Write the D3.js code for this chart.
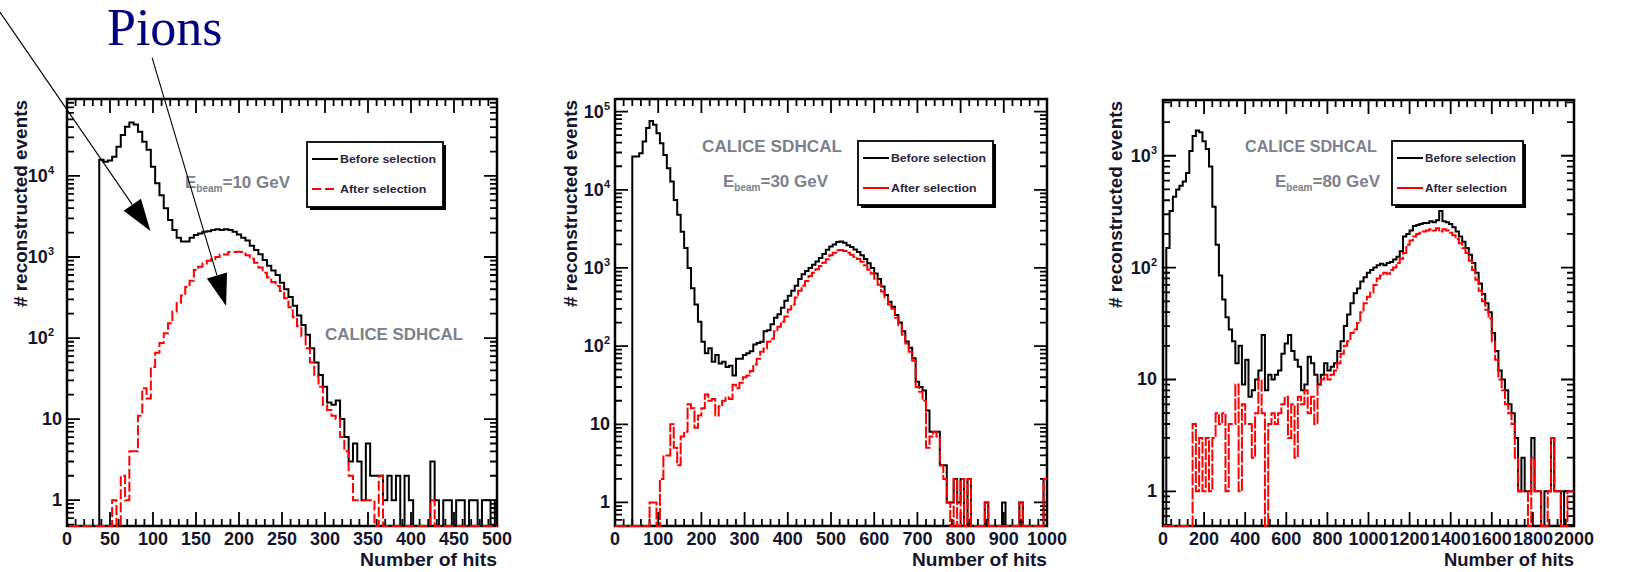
<!DOCTYPE html>
<html>
<head>
<meta charset="utf-8">
<script src="https://cdn.jsdelivr.net/npm/d3@7"></script>
<style>
  body { margin: 0; background: #ffffff; }
  svg { display: block; }
</style>
</head>
<body>
<div id="chart"></div>
<script>
// ---- Data (events per bin) ----
// Panel 1: 10 GeV, 100 bins of 5 hits (axis starts half a bin in)
const p1Before = [
    0, 0, 0, 0, 0, 0, 0, 15800, 15000, 15500,
    17300, 23000, 32000, 40500, 45500, 43000, 35000, 26500, 21000, 13000,
    8100, 5800, 4000, 2860, 2150, 1730, 1550, 1550, 1730, 1870,
    1950, 2050, 2080, 2150, 2200, 2150, 2200, 2150, 2050, 1900,
    1730, 1600, 1380, 1220, 1080, 920, 780, 680, 600, 480,
    400, 320, 250, 190, 145, 110, 75, 50, 35, 25,
    16, 15, 17, 10, 6, 3, 5, 3, 1, 5,
    2, 2, 2, 1, 2, 1, 2, 0, 2, 1,
    0, 0, 0, 0, 3, 1, 0, 1, 1, 0,
    1, 1, 0, 1, 1, 0, 1, 1, 0, 1
];
const p1After = [
    0, 0, 0, 0, 0, 0, 0, 0, 0, 0,
    1, 0, 2, 1, 4, 4, 11, 24, 18, 44,
    66, 87, 115, 152, 213, 270, 335, 426, 510, 690,
    760, 830, 900, 940, 1000, 1070, 1070, 1150, 1150, 1160,
    1150, 1050, 950, 850, 740, 640, 560, 490, 440, 380,
    310, 240, 180, 140, 105, 75, 50, 34, 25, 15,
    13, 11, 10, 6, 4, 2, 1, 1, 1, 1,
    1, 0, 2, 0, 0, 0, 0, 0, 0, 0,
    0, 0, 0, 0, 1, 0, 0, 0, 0, 0,
    0, 0, 0, 0, 0, 0, 0, 0, 0, 0
];
// Panel 2: 30 GeV, 125 bins of 8 hits
const p2Before = [
    0, 0, 0, 0, 0, 26600, 26600, 29300, 41500, 61600,
    76000, 67700, 52900, 39500, 27900, 18900, 12800, 7400, 4800, 2900,
    1800, 1000, 550, 340, 205, 114, 81, 94, 63, 77,
    60, 63, 54, 56, 42, 69, 69, 77, 81, 86,
    105, 110, 114, 155, 160, 190, 230, 255, 310, 380,
    440, 510, 590, 720, 830, 915, 1000, 1100, 1210, 1340,
    1510, 1710, 1880, 2000, 2150, 2180, 2100, 1950, 1850, 1720,
    1600, 1450, 1300, 1150, 1000, 850, 720, 580, 450, 370,
    320, 250, 200, 155, 115, 95, 70, 35, 30, 27,
    15, 8, 8, 8, 3, 3, 1, 1, 2, 1,
    2, 0, 2, 0, 0, 0, 0, 1, 0, 0,
    0, 0, 1, 0, 0, 0, 0, 1, 0, 0,
    0, 0, 0, 0, 2
];
const p2After = [
    0, 0, 0, 0, 0, 0, 0, 0, 0, 0,
    1, 1, 0, 2, 4, 4, 10, 5, 3, 7,
    8, 18, 16, 9, 13, 16, 24, 20, 21, 13,
    17, 20, 22, 21, 32, 29, 34, 40, 42, 48,
    58, 69, 85, 93, 114, 124, 155, 177, 205, 240,
    295, 340, 420, 510, 590, 680, 790, 870, 960, 1060,
    1170, 1290, 1450, 1560, 1680, 1700, 1650, 1560, 1480, 1380,
    1300, 1200, 1080, 950, 850, 730, 610, 500, 420, 340,
    300, 230, 185, 140, 108, 85, 65, 30, 26, 20,
    5, 7, 8, 7, 3, 2, 1, 0, 2, 0,
    2, 0, 2, 0, 0, 0, 0, 1, 0, 0,
    0, 0, 0, 0, 0, 0, 0, 1, 0, 0,
    0, 0, 0, 0, 2
];
// Panel 3: 80 GeV, 125 bins of 16 hits
const p3Before = [
    0, 150, 320, 430, 500, 540, 590, 700, 1100, 1500,
    1680, 1620, 1350, 1150, 800, 350, 160, 85, 52, 36,
    28, 22, 14, 20, 9, 15, 7, 8, 10, 12,
    25, 8, 11, 10, 11, 12, 17, 21, 25, 18,
    15, 13, 8, 9, 16, 14, 11, 9, 11, 14,
    12, 13, 14, 18, 22, 30, 38, 48, 59, 65,
    75, 82, 90, 95, 100, 105, 108, 105, 110, 112,
    118, 125, 140, 190, 200, 215, 235, 240, 245, 250,
    250, 260, 255, 265, 320, 260, 255, 245, 230, 210,
    190, 170, 150, 130, 110, 90, 72, 58, 48, 40,
    26, 18, 12, 10, 8, 6, 5, 3, 1, 2,
    1, 1, 3, 1, 1, 0, 1, 1, 3, 1,
    1, 0, 1, 1, 1
];
const p3After = [
    0, 0, 0, 0, 0, 0, 0, 0, 0, 4,
    1, 3, 1, 3, 1, 3, 5, 4, 5, 1,
    4, 4, 9, 1, 6, 4, 4, 2, 5, 10,
    5, 0, 4, 5, 4, 5, 6, 7, 3, 6,
    2, 7, 6, 8, 5, 7, 4, 9, 10, 11,
    10, 11, 12, 14, 17, 20, 22, 26, 28, 32,
    40, 48, 55, 60, 70, 80, 85, 90, 88, 95,
    100, 110, 120, 135, 160, 175, 190, 200, 205, 210,
    215, 220, 215, 225, 210, 220, 215, 205, 195, 180,
    165, 150, 135, 115, 95, 78, 62, 50, 42, 35,
    22, 15, 10, 8, 6, 5, 4, 2, 1, 1,
    1, 0, 2, 1, 1, 0, 0, 1, 3, 1,
    1, 0, 0, 1, 1
];

const p1XTicks = [0, 50, 100, 150, 200, 250, 300, 350, 400, 450, 500];
const p2XTicks = [0, 100, 200, 300, 400, 500, 600, 700, 800, 900, 1000];
const p3XTicks = [0, 200, 400, 600, 800, 1000, 1200, 1400, 1600, 1800, 2000];
const p1YTicks = [1, 10, 100, 1000, 10000];
const p2YTicks = [1, 10, 100, 1000, 10000, 100000];
const p3YTicks = [1, 10, 100, 1000];

const beamEnergies = [10, 30, 80];
const seriesNames = ["Before selection", "After selection"];
const xTitle = "Number of hits";
const yTitle = "# reconstructed events";
const experiment = "CALICE SDHCAL";
const annotationText = "Pions";
// Annotation arrows over the first panel, in its units (hits, events)
const arrowTails = [[-78, 1.05e6], [99, 2.86e5]];
const arrowTips = [[97, 2090], [185, 248]];

// ---- Layout ----
const W = 1627, H = 572;
const font = "'Liberation Sans', Arial, sans-serif";
const labelColor = "#14142a";
const greyText = "#7c808c";

const panels = [
    { before: p1Before, after: p1After, edge0: 2.5, binWidth: 5, xMax: 500, yMin: 0.48, yMax: 8.9e4,
      xTicks: p1XTicks, xMinor: 10, yTicks: p1YTicks,
      frame: { left: 67, top: 99, right: 497, bottom: 526 },
      expGap: 13, plainGap: 5, afterDash: "10,3", legendDash: "9,4",
      yTitleX: 20, xTitleLen: 137,
      legend: { x: 307, y: 142, w: 136, h: 65 },
      calice: { x: 325, y: 340, len: 138 }, beam: { x: 185, y: 188 } },
    { before: p2Before, after: p2After, edge0: 0, binWidth: 8, xMax: 1000, yMin: 0.5, yMax: 1.45e5,
      xTicks: p2XTicks, xMinor: 20, yTicks: p2YTicks,
      frame: { left: 615, top: 99, right: 1047, bottom: 526 },
      expGap: 5, plainGap: 5, afterDash: "12,2", legendDash: null,
      yTitleX: 570, xTitleLen: 135,
      legend: { x: 858, y: 141, w: 135, h: 64 },
      calice: { x: 702, y: 152, len: 140 }, beam: { x: 723, y: 187 } },
    { before: p3Before, after: p3After, edge0: 0, binWidth: 16, xMax: 2000, yMin: 0.49, yMax: 3150,
      xTicks: p3XTicks, xMinor: 40, yTicks: p3YTicks,
      frame: { left: 1163, top: 100, right: 1574, bottom: 526 },
      expGap: 6, plainGap: 6, afterDash: "12,2", legendDash: null,
      yTitleX: 1115, xTitleLen: 130,
      legend: { x: 1392, y: 141, w: 131, h: 64 },
      calice: { x: 1245, y: 152, len: 132 }, beam: { x: 1275, y: 187 } }
];

const svg = d3.select("#chart")
    .append("svg")
        .attr("width", W)
        .attr("height", H);

svg.append("rect").attr("width", W).attr("height", H).attr("fill", "#ffffff");

function histPoints(values, edge0, binWidth, yMin) {
    // Step points on every bin edge; empty bins sit on the bottom of the log axis
    const pts = values.map((v, i) => ({ x: edge0 + i * binWidth, y: v > yMin ? v : yMin }));
    pts.push({ x: edge0 + values.length * binWidth, y: pts[pts.length - 1].y });
    return pts;
}

function drawTicks(g, p, x, y) {
    const f = p.frame;
    // x ticks, top and bottom, pointing into the frame
    const xs = d3.range(0, p.xMax + 1e-6, p.xMinor);
    const isMajor = v => p.xTicks.indexOf(v) >= 0;
    g.selectAll(".xtick")
        .data(xs)
        .enter()
        .append("path")
        .attr("class", "xtick")
        .attr("stroke", "#000")
        .attr("stroke-width", 1.8)
        .attr("d", v => {
            const len = isMajor(v) ? 14 : 7;
            const px = x(v);
            return `M${px},${f.bottom}V${f.bottom - len}M${px},${f.top}V${f.top + len}`;
        });

    // log y ticks, left and right
    const ys = [];
    for (let d = Math.floor(Math.log10(p.yMin)); d <= Math.ceil(Math.log10(p.yMax)); d++) {
        for (let m = 1; m <= 9; m++) {
            const v = m * Math.pow(10, d);
            if (v >= p.yMin && v <= p.yMax) ys.push({ v: v, major: m === 1 });
        }
    }
    g.selectAll(".ytick")
        .data(ys)
        .enter()
        .append("path")
        .attr("class", "ytick")
        .attr("stroke", "#000")
        .attr("stroke-width", 1.8)
        .attr("d", d => {
            const len = d.major ? 13 : 7;
            const py = y(d.v);
            return `M${f.left},${py}H${f.left + len}M${f.right},${py}H${f.right - len}`;
        });
}

function drawTickLabels(g, p, x, y) {
    const f = p.frame;
    g.selectAll(".xlabel")
        .data(p.xTicks)
        .enter()
        .append("text")
        .attr("class", "xlabel")
        .attr("x", d => x(d))
        .attr("y", 545)
        .attr("text-anchor", "middle")
        .attr("font-family", font)
        .attr("font-weight", "bold")
        .attr("font-size", "18px")
        .attr("fill", labelColor)
        .text(d => d);

    const yl = g.selectAll(".ylabel")
        .data(p.yTicks)
        .enter()
        .append("text")
        .attr("class", "ylabel")
        .attr("x", d => d >= 100 ? f.left - p.expGap : f.left - p.plainGap)
        .attr("y", d => y(d) + 6)
        .attr("text-anchor", "end")
        .attr("font-family", font)
        .attr("font-weight", "bold")
        .attr("font-size", "18px")
        .attr("fill", labelColor);
    yl.each(function (d) {
        const t = d3.select(this);
        if (d < 100) {
            t.text(d);
        } else {
            t.append("tspan").text("10");
            t.append("tspan")
                .attr("font-size", "11px")
                .attr("dy", -8)
                .text(Math.round(Math.log10(d)));
        }
    });
}

function drawLegend(g, p) {
    const L = p.legend;
    // ROOT style box with a drop shadow
    g.append("rect")
        .attr("x", L.x + 3).attr("y", L.y + 3)
        .attr("width", L.w).attr("height", L.h)
        .attr("fill", "#000");
    g.append("rect")
        .attr("x", L.x).attr("y", L.y)
        .attr("width", L.w).attr("height", L.h)
        .attr("fill", "#fff")
        .attr("stroke", "#000")
        .attr("stroke-width", 1.8);

    const entries = [
        { name: seriesNames[0], color: "#000", dash: null, dy: 17, len: L.w - 40 },
        { name: seriesNames[1], color: "#ff0000", dash: p.legendDash, dy: 47, len: (L.w - 40) * 0.9 }
    ];
    entries.forEach(e => {
        g.append("line")
            .attr("x1", L.x + 5).attr("x2", L.x + 31)
            .attr("y1", L.y + e.dy).attr("y2", L.y + e.dy)
            .attr("stroke", e.color)
            .attr("stroke-width", 2)
            .attr("stroke-dasharray", e.dash);
        g.append("text")
            .attr("x", L.x + 33)
            .attr("y", L.y + e.dy + 4)
            .attr("font-family", font)
            .attr("font-weight", "bold")
            .attr("font-size", "11.5px")
            .attr("fill", "#2a2440")
            .attr("textLength", e.len)
            .attr("lengthAdjust", "spacingAndGlyphs")
            .text(e.name);
    });
}

function drawPanel(p, idx) {
    const f = p.frame;
    const g = svg.append("g");

    var x = d3.scaleLinear().domain([0, p.xMax]).range([f.left, f.right]);
    var y = d3.scaleLog().domain([p.yMin, p.yMax]).range([f.bottom, f.top]);

    // Frame and ticks
    g.append("rect")
        .attr("x", f.left).attr("y", f.top)
        .attr("width", f.right - f.left).attr("height", f.bottom - f.top)
        .attr("fill", "none")
        .attr("stroke", "#000")
        .attr("stroke-width", 2.5);
    drawTicks(g, p, x, y);
    drawTickLabels(g, p, x, y);

    // Histograms, clipped to the frame
    const clipId = "clip" + idx;
    svg.append("clipPath").attr("id", clipId)
        .append("rect")
        .attr("x", f.left).attr("y", f.top - 2)
        .attr("width", f.right - f.left).attr("height", f.bottom - f.top + 4);

    const line = d3.line()
        .x(d => x(d.x))
        .y(d => y(d.y))
        .curve(d3.curveStepAfter);

    const hg = g.append("g").attr("clip-path", `url(#${clipId})`);
    hg.append("path")
        .datum(histPoints(p.before, p.edge0, p.binWidth, p.yMin))
        .attr("fill", "none")
        .attr("stroke", "#000")
        .attr("stroke-width", 2)
        .attr("d", line);
    hg.append("path")
        .datum(histPoints(p.after, p.edge0, p.binWidth, p.yMin))
        .attr("fill", "none")
        .attr("stroke", "#ff0000")
        .attr("stroke-width", 2)
        .attr("stroke-dasharray", p.afterDash)
        .attr("d", line);

    // Axis titles
    g.append("text")
        .attr("x", f.right)
        .attr("y", 566)
        .attr("text-anchor", "end")
        .attr("font-family", font)
        .attr("font-weight", "bold")
        .attr("font-size", "19px")
        .attr("fill", labelColor)
        .attr("textLength", p.xTitleLen)
        .attr("lengthAdjust", "spacingAndGlyphs")
        .text(xTitle);
    g.append("text")
        .attr("transform", `translate(${p.yTitleX + 7},${f.top + 1}) rotate(-90)`)
        .attr("text-anchor", "end")
        .attr("font-family", font)
        .attr("font-weight", "bold")
        .attr("font-size", "19px")
        .attr("fill", labelColor)
        .attr("textLength", 207)
        .attr("lengthAdjust", "spacingAndGlyphs")
        .text(yTitle);

    // Grey in-plot captions
    g.append("text")
        .attr("x", p.calice.x)
        .attr("y", p.calice.y)
        .attr("font-family", font)
        .attr("font-weight", "bold")
        .attr("font-size", "17px")
        .attr("fill", greyText)
        .attr("textLength", p.calice.len)
        .attr("lengthAdjust", "spacingAndGlyphs")
        .text(experiment);
    const bt = g.append("text")
        .attr("x", p.beam.x)
        .attr("y", p.beam.y)
        .attr("font-family", font)
        .attr("font-weight", "bold")
        .attr("font-size", "17px")
        .attr("fill", greyText);
    bt.append("tspan").text("E");
    bt.append("tspan").attr("font-size", "10px").attr("dy", 4).text("beam");
    bt.append("tspan").attr("dy", -4).text("=" + beamEnergies[idx] + " GeV");

    drawLegend(g, p);

    return { x: x, y: y };
}

const scales = panels.map((p, i) => drawPanel(p, i));

// "Pions" annotation with arrows pointing into the first panel
svg.append("text")
    .attr("x", 107)
    .attr("y", 45)
    .attr("font-family", "'Liberation Serif', 'Times New Roman', serif")
    .attr("font-size", "52px")
    .attr("fill", "#000080")
    .text(annotationText);

function drawArrow(from, to) {
    // Thin line with a filled triangular head at the tip
    const dx = to[0] - from[0], dy = to[1] - from[1];
    const n = Math.sqrt(dx * dx + dy * dy);
    const ux = dx / n, uy = dy / n;
    const headLen = 32, headHalf = 10.5;
    const bx = to[0] - ux * headLen, by = to[1] - uy * headLen;
    svg.append("line")
        .attr("x1", from[0]).attr("y1", from[1])
        .attr("x2", bx).attr("y2", by)
        .attr("stroke", "#000")
        .attr("stroke-width", 1.1);
    svg.append("path")
        .attr("d", `M${to[0]},${to[1]}L${bx - uy * headHalf},${by + ux * headHalf}L${bx + uy * headHalf},${by - ux * headHalf}Z`)
        .attr("fill", "#000");
}

const s1 = scales[0];
arrowTails.forEach((t, i) => {
    const tip = arrowTips[i];
    drawArrow([s1.x(t[0]), s1.y(t[1])], [s1.x(tip[0]), s1.y(tip[1])]);
});
</script>
</body>
</html>
